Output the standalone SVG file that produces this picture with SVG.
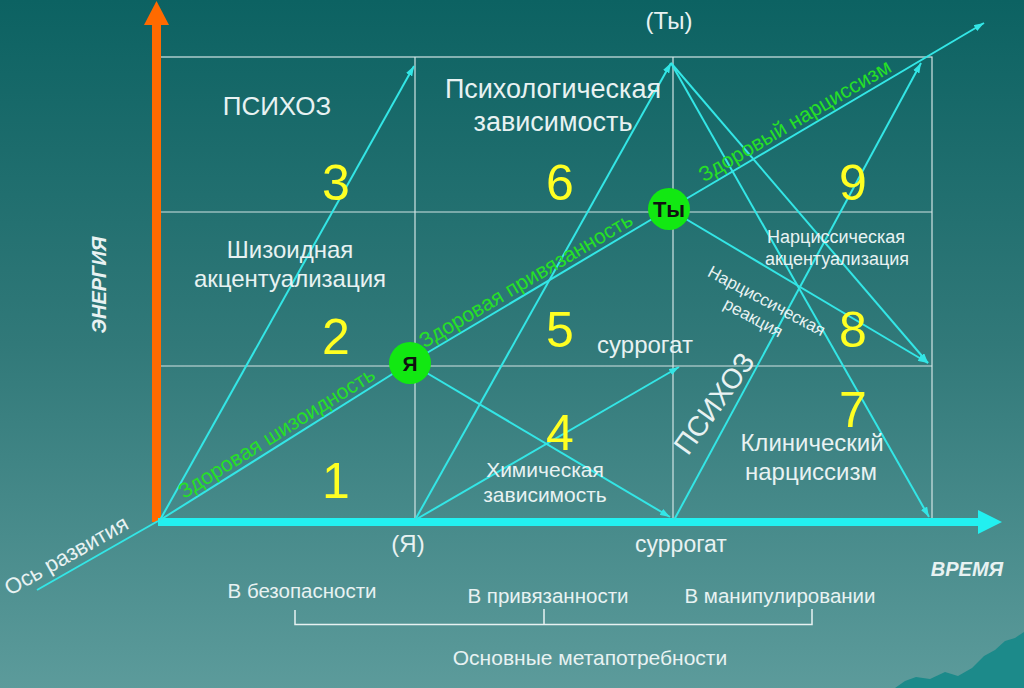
<svg xmlns="http://www.w3.org/2000/svg" width="1024" height="688" viewBox="0 0 1024 688">
  <defs>
    <linearGradient id="bg" x1="0" y1="0" x2="0" y2="1">
      <stop offset="0" stop-color="#0C6262"/>
      <stop offset="0.5" stop-color="#317979"/>
      <stop offset="1" stop-color="#5C9B9B"/>
    </linearGradient>
    <marker id="ah" viewBox="0 0 10 7" refX="10" refY="3.5" markerWidth="10" markerHeight="7" markerUnits="userSpaceOnUse" orient="auto">
      <path d="M0,0 L10,3.5 L0,7 z" fill="#33E6E6"/>
    </marker>
    <style>
      .grid { stroke:#D2E4E4; stroke-width:1.2; fill:none; }
      .cl { stroke:#33E6E6; stroke-width:2; fill:none; }
      .ar { marker-end:url(#ah); }
      .t { font-family:"Liberation Sans", Arial, sans-serif; fill:#E8F2F2; text-anchor:middle; }
      .num { font-family:"Liberation Sans", Arial, sans-serif; fill:#FFFF22; font-size:50px; text-anchor:middle; }
      .g { font-family:"Liberation Sans", Arial, sans-serif; fill:#26E026; font-size:21px; text-anchor:middle; }
      .node { fill:#12E812; }
      .nt { font-family:"Liberation Sans", Arial, sans-serif; font-weight:bold; fill:#111; text-anchor:middle; }
    </style>
  </defs>

  <rect x="0" y="0" width="1024" height="688" fill="url(#bg)"/>
  <polygon points="895,688 905,681 916,677 930,679 945,672 958,676 972,668 984,656 995,650 1005,641 1015,638 1024,632 1024,688" fill="#1C8A8A"/>

  <g id="grid">
    <rect class="grid" x="160" y="57" width="772" height="462"/>
    <line class="grid" x1="415" y1="57" x2="415" y2="519"/>
    <line class="grid" x1="673" y1="57" x2="673" y2="519"/>
    <line class="grid" x1="160" y1="212" x2="932" y2="212"/>
    <line class="grid" x1="160" y1="366" x2="932" y2="366"/>
  </g>

  <g id="axis-energy">
    <rect x="152" y="24" width="9" height="498" fill="#FF6A00"/>
    <polygon points="144,25 156.5,1 169,25" fill="#FF6A00"/>
  </g>
  <g id="axis-time">
    <rect x="158" y="518" width="822" height="8" fill="#22F0F0"/>
    <polygon points="978,510 1002,522 978,534" fill="#22F0F0"/>
  </g>

  <g id="connectors">
    <line class="cl" x1="37" y1="590" x2="158" y2="521"/>
    <line class="cl ar" x1="160" y1="520" x2="414" y2="66"/>
    <line class="cl" x1="160" y1="520" x2="410" y2="363"/>
    <line class="cl" x1="410" y1="363" x2="669" y2="209"/>
    <line class="cl ar" x1="669" y1="209" x2="984" y2="23"/>
    <line class="cl ar" x1="415" y1="520" x2="671" y2="63"/>
    <line class="cl ar" x1="671" y1="63" x2="929" y2="517"/>
    <line class="cl ar" x1="671" y1="63" x2="928" y2="363"/>
    <line class="cl ar" x1="674" y1="520" x2="921" y2="63"/>
    <line class="cl ar" x1="669" y1="209" x2="928" y2="363"/>
    <line class="cl ar" x1="415" y1="520" x2="679" y2="367"/>
    <line class="cl ar" x1="410" y1="363" x2="670" y2="517"/>
  </g>

  <g id="labels-green">
    <text class="g" transform="translate(283,443) rotate(-32.1)" y="-5">Здоровая шизоидность</text>
    <text class="g" transform="translate(532,290.5) rotate(-30.7)" y="-5">Здоровая привязанность</text>
    <text class="g" transform="translate(801,131) rotate(-30.6)" y="-5">Здоровый нарциссизм</text>
  </g>

  <g id="numbers">
    <text class="num" x="336" y="498">1</text>
    <text class="num" x="336" y="354">2</text>
    <text class="num" x="336" y="200">3</text>
    <text class="num" x="560" y="450">4</text>
    <text class="num" x="560" y="347">5</text>
    <text class="num" x="560" y="200">6</text>
    <text class="num" x="853" y="427">7</text>
    <text class="num" x="853" y="347">8</text>
    <text class="num" x="853" y="200">9</text>
  </g>

  <g id="cell-labels">
    <text class="t" x="277" y="115" font-size="26">ПСИХОЗ</text>
    <text class="t" x="553" y="98" font-size="27">Психологическая</text>
    <text class="t" x="553" y="131" font-size="27">зависимость</text>
    <text class="t" x="290" y="258" font-size="24">Шизоидная</text>
    <text class="t" x="290" y="287" font-size="24">акцентуализация</text>
    <text class="t" x="645" y="353" font-size="24">суррогат</text>
    <text class="t" x="545" y="477" font-size="21">Химическая</text>
    <text class="t" x="545" y="502" font-size="21">зависимость</text>
    <text class="t" x="836" y="243" font-size="18">Нарциссическая</text>
    <text class="t" x="837" y="265" font-size="18">акцентуализация</text>
    <g transform="translate(764,306) rotate(28)">
      <text class="t" x="0" y="0" font-size="17">Нарциссическая</text>
      <text class="t" x="-4" y="21" font-size="17">реакция</text>
    </g>
    <text class="t" transform="translate(722,409) rotate(-54.5)" font-size="28">ПСИХОЗ</text>
    <text class="t" x="812" y="451" font-size="24">Клинический</text>
    <text class="t" x="811" y="480" font-size="24">нарциссизм</text>
  </g>

  <g id="axis-labels">
    <text class="t" x="669" y="29" font-size="24">(Ты)</text>
    <text class="t" x="408" y="552" font-size="24">(Я)</text>
    <text class="t" x="681" y="552" font-size="23">суррогат</text>
    <text class="t" transform="translate(106,285) rotate(-90)" font-size="20" font-weight="bold" font-style="italic">ЭНЕРГИЯ</text>
    <text class="t" x="967" y="576" font-size="20" font-weight="bold" font-style="italic">ВРЕМЯ</text>
    <text class="t" transform="translate(70,562) rotate(-29.5)" font-size="22">Ось развития</text>
  </g>

  <g id="metaneeds">
    <text class="t" x="302" y="598" font-size="20.5">В безопасности</text>
    <text class="t" x="548" y="603" font-size="20.5">В привязанности</text>
    <text class="t" x="780" y="603" font-size="20.5">В манипулировании</text>
    <path d="M295,610 V624.5 H812 V609 M544,609 V624.5" stroke="#E8F2F2" stroke-width="1.5" fill="none"/>
    <text class="t" x="590" y="665" font-size="21">Основные метапотребности</text>
  </g>

  <g id="node-ya">
    <circle class="node" cx="410" cy="363" r="21"/>
    <text class="nt" x="410" y="371" font-size="21">Я</text>
  </g>
  <g id="node-ty">
    <circle class="node" cx="669" cy="209" r="21"/>
    <text class="nt" x="669" y="217" font-size="22">Ты</text>
  </g>
</svg>
